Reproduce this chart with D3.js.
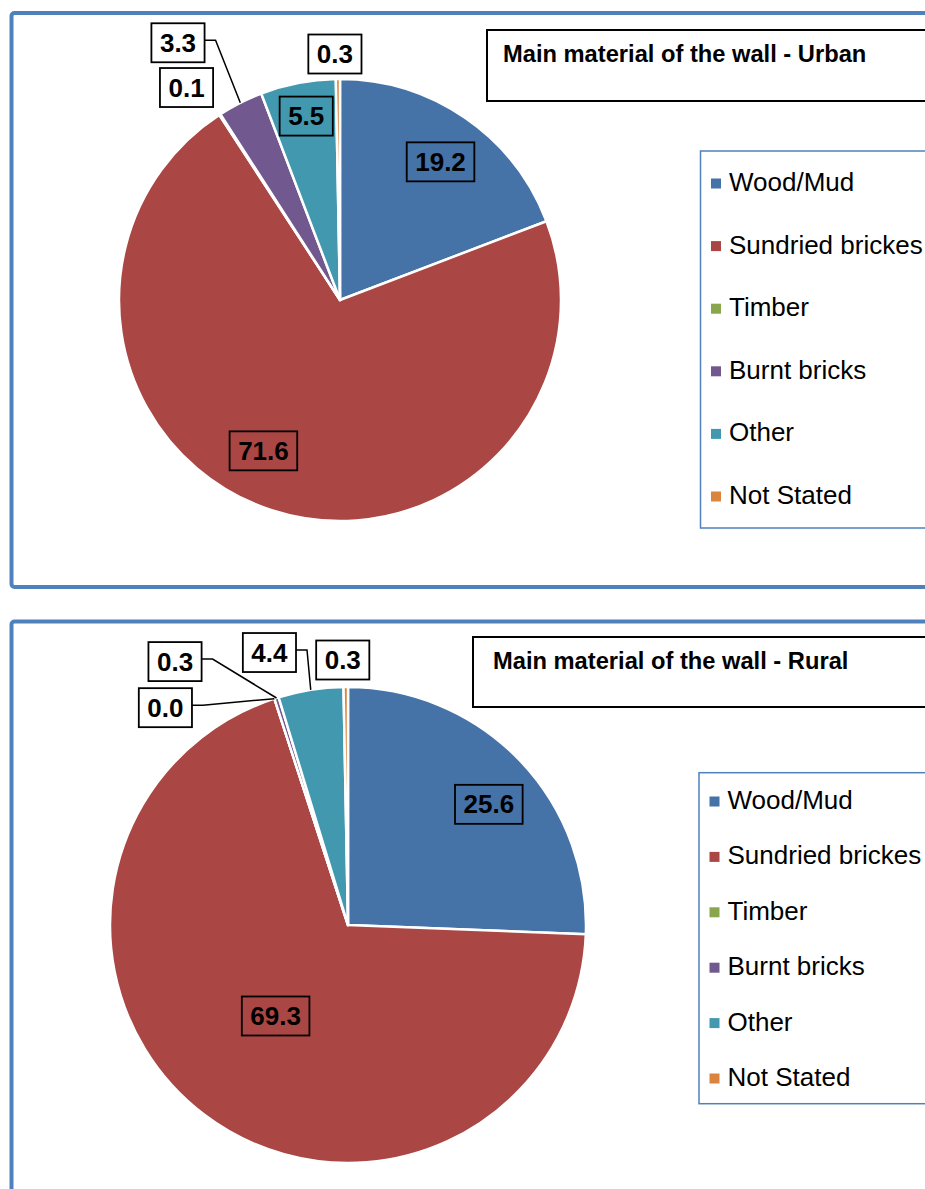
<!DOCTYPE html>
<html>
<head>
<meta charset="utf-8">
<script src="https://cdn.jsdelivr.net/npm/d3@7"></script>
<style>
  html, body { margin: 0; padding: 0; background: #fff; }
  svg { display: block; font-family: "Liberation Sans", Arial, sans-serif; }
</style>
</head>
<body>
<div id="chart"></div>
<script>
// ---------- data ----------
const categories = ["Wood/Mud", "Sundried brickes", "Timber", "Burnt bricks", "Other", "Not Stated"];
const urbanValues = [19.2, 71.6, 0.1, 3.3, 5.5, 0.3];
const ruralValues = [25.6, 69.3, 0.0, 0.3, 4.4, 0.3];
const urbanTitle = "Main material of the wall - Urban";
const ruralTitle = "Main material of the wall - Rural";
const colors = ["#4572a7", "#aa4643", "#89a54e", "#71588f", "#4198af", "#db843d"];

// ---------- layout (not data) ----------
const W = 925, H = 1189;
const panels = [
  {
    values: urbanValues, title: urbanTitle,
    frame: {x: 11.5, y: 13, h: 574},
    cx: 340, cy: 300, r: 221,
    titleBox: {x: 487, y: 30, h: 71, tx: 503, ty: 62},
    legend: {x: 700.5, y: 151, h: 377, first: 191, step: 62.6},
    labels: [
      {k: 0.77, dx: 4, dy: 2, out: false},
      {k: 0.77, dx: -24, dy: -11, out: false},
      {k: 1, dx: -33.3, dy: -27, out: true, leader: false},
      {k: 1, dx: -62.3, dy: -60, out: true, leader: true},
      {k: 0.85, dx: 2, dy: 0.5, out: false},
      {k: 1, dx: -3, dy: -25, out: true, leader: false}
    ]
  },
  {
    values: ruralValues, title: ruralTitle,
    frame: {x: 11.5, y: 621.5, h: 700},
    cx: 348, cy: 925, r: 238,
    titleBox: {x: 473, y: 637, h: 70, tx: 493, ty: 669},
    legend: {x: 699, y: 772.7, h: 331, first: 809, step: 55.4},
    labels: [
      {k: 0.78, dx: 7, dy: 8, out: false},
      {k: 0.49, dx: -2, dy: -2, out: false},
      {k: 1, dx: -109, dy: 9, out: true, leader: true},
      {k: 1, dx: -101.5, dy: -36.4, out: true, leader: true},
      {k: 1, dx: -41.3, dy: -37.4, out: true, leader: true},
      {k: 1, dx: -3, dy: -27, out: true, leader: false}
    ]
  }
];

const svg = d3.select("#chart").append("svg")
  .attr("width", W).attr("height", H);

panels.forEach(p => {
  const data = categories.map((c, i) => ({cat: c, value: p.values[i], color: colors[i], i}));

  svg.append("rect")
    .attr("x", p.frame.x).attr("y", p.frame.y)
    .attr("width", W + 40).attr("height", p.frame.h)
    .attr("rx", 3)
    .attr("fill", "#fff").attr("stroke", "#4f81bd").attr("stroke-width", 4);

  const pie = d3.pie().sort(null).value(d => d.value).startAngle(0).endAngle(2 * Math.PI);
  const arcs = pie(data);
  const arc = d3.arc().innerRadius(0).outerRadius(p.r);

  const g = svg.append("g").attr("transform", `translate(${p.cx},${p.cy})`);
  g.selectAll("path.slice").data(arcs).enter().append("path")
    .attr("class", "slice")
    .attr("d", arc)
    .attr("fill", d => d.data.color)
    .attr("stroke", "#fff")
    .attr("stroke-width", 2.5)
    .attr("stroke-linejoin", "round");

  arcs.forEach((a, idx) => {
    const L = p.labels[idx];
    const mid = (a.startAngle + a.endAngle) / 2;
    const px = Math.sin(mid) * p.r * L.k;
    const py = -Math.cos(mid) * p.r * L.k;
    const bx = px + L.dx, by = py + L.dy;
    const lg = g.append("g");
    const txt = lg.append("text")
      .attr("x", bx).attr("y", by)
      .attr("text-anchor", "middle")
      .attr("dominant-baseline", "central")
      .attr("font-size", 26).attr("font-weight", "bold")
      .attr("fill", "#000")
      .text(a.data.value.toFixed(1));
    const tw = txt.node().getComputedTextLength();
    const bw = tw + 17, bh = 39;
    lg.insert("rect", "text")
      .attr("x", bx - bw / 2).attr("y", by - bh / 2)
      .attr("width", bw).attr("height", bh)
      .attr("fill", L.out ? "#fff" : "none")
      .attr("stroke", "#000").attr("stroke-width", 1.8);
    if (L.leader) {
      const ex = Math.sin(mid) * p.r, ey = -Math.cos(mid) * p.r;
      const sx = bx + bw / 2, sy = by - 2.5;
      g.append("path")
        .attr("d", `M${sx},${sy}L${sx + 11},${sy}L${ex},${ey}`)
        .attr("fill", "none").attr("stroke", "#000").attr("stroke-width", 1.5);
    }
  });

  svg.append("rect")
    .attr("x", p.titleBox.x).attr("y", p.titleBox.y)
    .attr("width", W).attr("height", p.titleBox.h)
    .attr("fill", "#fff").attr("stroke", "#000").attr("stroke-width", 2);
  svg.append("text")
    .attr("x", p.titleBox.tx).attr("y", p.titleBox.ty)
    .attr("font-size", 23.7).attr("font-weight", "bold").attr("fill", "#000")
    .text(p.title);

  svg.append("rect")
    .attr("x", p.legend.x).attr("y", p.legend.y)
    .attr("width", W).attr("height", p.legend.h)
    .attr("fill", "#fff").attr("stroke", "#4f81bd").attr("stroke-width", 1.5);
  const items = svg.selectAll(null).data(data).enter().append("g")
    .attr("transform", (d, i) => `translate(0,${p.legend.first + i * p.legend.step})`);
  items.append("rect")
    .attr("x", p.legend.x + 10.5).attr("y", -12.5)
    .attr("width", 10).attr("height", 10)
    .attr("fill", d => d.color);
  items.append("text")
    .attr("x", p.legend.x + 28.5).attr("y", 0)
    .attr("font-size", 26).attr("fill", "#000")
    .text(d => d.cat);
});
</script>
</body>
</html>
